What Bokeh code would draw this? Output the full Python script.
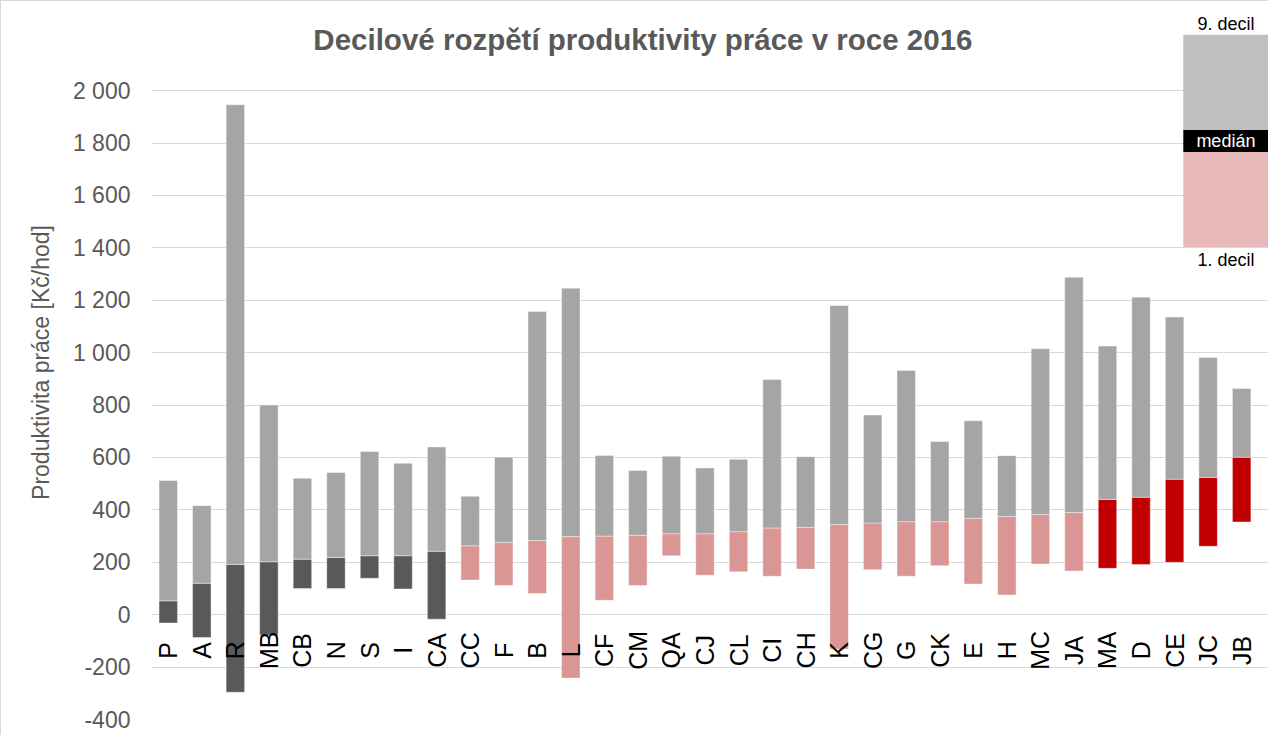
from bokeh.plotting import figure
from bokeh.models import Range1d, FixedTicker, BoxAnnotation, Label, ColumnDataSource
from bokeh.core.properties import value
from bokeh.embed import file_html
from bokeh.resources import INLINE
import math

# ---------------- data ----------------
categories = ["P", "A", "R", "MB", "CB", "N", "S", "I", "CA", "CC", "F", "B", "L", "CF",
              "CM", "QA", "CJ", "CL", "CI", "CH", "K", "CG", "G", "CK", "E", "H", "MC",
              "JA", "MA", "D", "CE", "JC", "JB"]
decile1 = [-32, -87, -296, -78, 100, 100, 139, 98, -17, 132, 111, 81, -242, 55, 111, 225,
           151, 164, 147, 174, -131, 172, 147, 187, 117, 75, 193, 167, 177, 192, 200, 261, 354]
median = [53, 120, 192, 202, 212, 218, 225, 225, 242, 263, 276, 283, 298, 300, 303, 309,
          309, 317, 331, 333, 344, 350, 355, 355, 368, 375, 382, 390, 440, 448, 517, 524, 601]
decile9 = [512, 416, 1946, 800, 521, 543, 623, 578, 640, 452, 601, 1157, 1246, 608, 550, 605,
           560, 593, 898, 603, 1180, 762, 932, 661, 740, 607, 1015, 1288, 1025, 1212, 1136, 982, 863]
groups = ["dark", "dark", "dark", "dark", "dark", "dark", "dark", "dark", "dark",
          "pink", "pink", "pink", "pink", "pink", "pink", "pink", "pink", "pink", "pink",
          "pink", "pink", "pink", "pink", "pink", "pink", "pink", "pink", "pink",
          "red", "red", "red", "red", "red"]
y_ticks = [-400, -200, 0, 200, 400, 600, 800, 1000, 1200, 1400, 1600, 1800, 2000]
y_tick_labels = ["-400", "-200", "0", "200", "400", "600", "800", "1 000", "1 200",
                 "1 400", "1 600", "1 800", "2 000"]
title_text = "Decilové rozpětí produktivity práce v roce 2016"
y_title = "Produktivita práce [Kč/hod]"
legend_texts = ["9. decil", "medián", "1. decil"]

# ---------------- styles / layout ----------------
FONT = "Liberation Sans"
GROUP_COLORS = {"dark": "#595959", "pink": "#DA9694", "red": "#C00000"}
UPPER_COLOR = "#A5A5A5"
GRID_COLOR = "#D9D9D9"
TEXT_GRAY = "#595959"
LABEL_Y = -136           # vertical centre of the rotated category labels
Y_TOP = 2325             # extra room above the value axis for title and legend
X_END = 32.83            # extra room right of the last bar for the legend

xs = list(range(len(categories)))
src = ColumnDataSource(dict(
    x=xs, cat=categories, d1=decile1, med=median, d9=decile9,
    low_color=[GROUP_COLORS[g] for g in groups],
))

p = figure(
    width=1268, height=735,
    x_range=Range1d(-0.5, X_END),
    y_range=Range1d(y_ticks[0], Y_TOP),
    x_axis_location=None,
    output_backend="svg", toolbar_location=None,
    min_border_left=150, min_border_right=0, min_border_top=4, min_border_bottom=17,
)
p.outline_line_color = None
p.styles = {"border-left": "1px solid #D9D9D9", "border-top": "1px solid #D9D9D9"}

# y axis
ax = p.yaxis[0]
ax.ticker = FixedTicker(ticks=y_ticks)
ax.bounds = (y_ticks[0], y_ticks[-1])
ax.major_label_overrides = {t: s for t, s in zip(y_ticks, y_tick_labels)}
ax.axis_line_color = None
ax.major_tick_line_color = None
ax.minor_tick_line_color = None
ax.major_tick_out = 0
ax.major_label_standoff = 21
ax.major_label_text_font = FONT
ax.major_label_text_font_size = "23px"
ax.major_label_text_color = TEXT_GRAY
ax.axis_label = y_title
ax.axis_label_text_font = FONT
ax.axis_label_text_font_size = "23px"
ax.axis_label_text_font_style = "normal"
ax.axis_label_text_color = TEXT_GRAY
ax.axis_label_standoff = 16

p.xgrid.grid_line_color = None
p.ygrid.grid_line_color = GRID_COLOR
p.ygrid.grid_line_width = 1
p.ygrid.ticker = FixedTicker(ticks=y_ticks)

# bars
p.vbar(x="x", bottom="d1", top="med", width=0.55, source=src,
       fill_color="low_color", line_color="#FFFFFF", line_alpha=0.5, line_width=0.8)
p.vbar(x="x", bottom="med", top="d9", width=0.55, source=src,
       fill_color=UPPER_COLOR, line_color="#FFFFFF", line_alpha=0.5, line_width=0.8)

# category labels
p.text(x="x", y=LABEL_Y, text="cat", source=src, angle=math.pi / 2,
       text_align="center", text_baseline="middle", text_font=value(FONT),
       text_font_size="25px", text_color="#000000")

# title
p.add_layout(Label(x=14.15, y=2197, text=title_text, text_align="center",
                   text_baseline="middle", text_font=FONT, text_font_size="29.5px",
                   text_font_style="bold", text_color=TEXT_GRAY))

# legend (decorative stacked box, top right)
LEG_L, LEG_R = 30.26, 32.80
p.add_layout(BoxAnnotation(left=LEG_L, right=LEG_R, bottom=1850, top=2213,
                           fill_color="#BFBFBF", fill_alpha=1, line_color=None))
p.add_layout(BoxAnnotation(left=LEG_L, right=LEG_R, bottom=1766, top=1850,
                           fill_color="#000000", fill_alpha=1, line_color=None))
p.add_layout(BoxAnnotation(left=LEG_L, right=LEG_R, bottom=1403, top=1766,
                           fill_color="#E6B9B8", fill_alpha=1, line_color=None))
LEG_C = (LEG_L + LEG_R) / 2
for txt, yy, col in zip(legend_texts, [2255, 1808, 1354], ["#000000", "#FFFFFF", "#000000"]):
    p.add_layout(Label(x=LEG_C, y=yy, text=txt, text_align="center", text_baseline="middle",
                       text_font=FONT, text_font_size="18px", text_color=col))

open("out.html", "w").write(file_html(p, INLINE))
